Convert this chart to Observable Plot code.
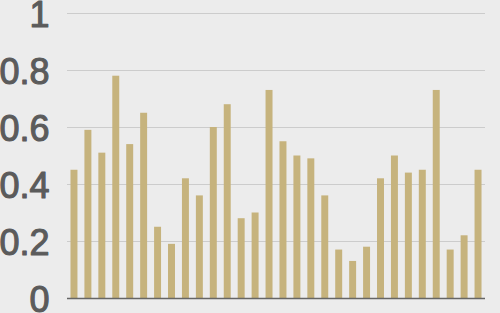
<!DOCTYPE html>
<html>
<head>
<meta charset="utf-8">
<script src="https://cdn.jsdelivr.net/npm/d3@7"></script>
<script src="https://cdn.jsdelivr.net/npm/@observablehq/plot@0.6"></script>
<style>
  html, body { margin: 0; padding: 0; background: #ececec; }
  #chart { width: 500px; height: 313px; overflow: hidden; }
</style>
</head>
<body>
<div id="chart"></div>
<script>
const categories = Array.from({length: 30}, (_, i) => `C${i + 1}`);
const values = [0.45, 0.59, 0.51, 0.78, 0.54, 0.65, 0.25, 0.19, 0.42, 0.36,
                0.60, 0.68, 0.28, 0.30, 0.73, 0.55, 0.50, 0.49, 0.36, 0.17,
                0.13, 0.18, 0.42, 0.50, 0.44, 0.45, 0.73, 0.17, 0.22, 0.45];
const yTicks = [0, 0.2, 0.4, 0.6, 0.8, 1];
const yTickLabels = ["0", "0.2", "0.4", "0.6", "0.8", "1"];

const data = categories.map((c, i) => ({category: c, value: values[i]}));
const tickData = yTicks.map((t, i) => ({tick: t, label: yTickLabels[i]}));

const chart = Plot.plot({
  width: 500,
  height: 313,
  marginLeft: 67,
  marginRight: 15,
  marginTop: 13,
  marginBottom: 15,
  style: {background: "#ececec", fontFamily: "'Liberation Sans', Arial, sans-serif", overflow: "visible"},
  x: {domain: categories, paddingInner: 0.5, paddingOuter: 0.25, round: false, axis: null},
  y: {domain: [0, 1], axis: null},
  marks: [
    Plot.gridY(yTicks, {stroke: "#cccccc", strokeOpacity: 1, strokeWidth: 1}),
    Plot.barY(data, {x: "category", y: "value", fill: "#c6b37d"}),
    Plot.ruleY([0], {stroke: "#666666", strokeWidth: 1.5}),
    Plot.text(tickData, {
      y: "tick",
      text: "label",
      frameAnchor: "left",
      textAnchor: "end",
      dx: -18,
      dy: 2,
      fontSize: 36,
      fill: "#5b5b5b",
      stroke: "#5b5b5b",
      strokeWidth: 1.1,
      paintOrder: "stroke"
    })
  ]
});
document.getElementById("chart").appendChild(chart);
</script>
</body>
</html>
